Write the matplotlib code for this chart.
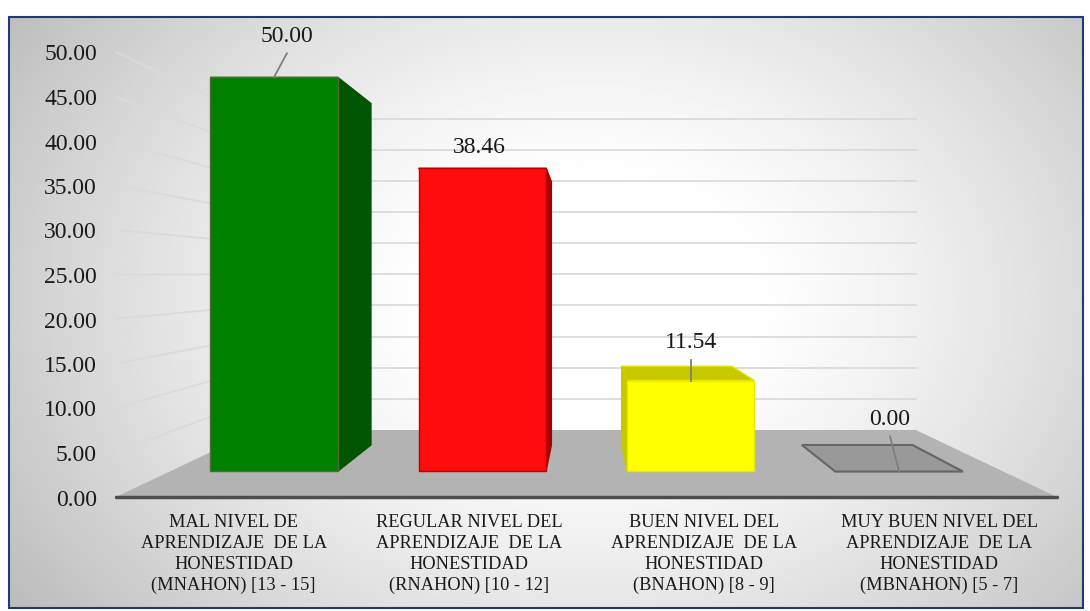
import matplotlib
matplotlib.use("Agg")
import matplotlib.pyplot as plt
from matplotlib.patches import Polygon, Rectangle
import numpy as np

plt.rcParams['font.family'] = ['Liberation Serif', 'DejaVu Serif']

# data
categorias = ["MAL NIVEL DE\nAPRENDIZAJE  DE LA\nHONESTIDAD\n(MNAHON) [13 - 15]",
              "REGULAR NIVEL DEL\nAPRENDIZAJE  DE LA\nHONESTIDAD\n(RNAHON) [10 - 12]",
              "BUEN NIVEL DEL\nAPRENDIZAJE  DE LA\nHONESTIDAD\n(BNAHON) [8 - 9]",
              "MUY BUEN NIVEL DEL\nAPRENDIZAJE  DE LA\nHONESTIDAD\n(MBNAHON) [5 - 7]"]
valores = [50.00, 38.46, 11.54, 0.00]
etiquetas = ["50.00", "38.46", "11.54", "0.00"]
ticks = [0, 5, 10, 15, 20, 25, 30, 35, 40, 45, 50]

# colours: front, side/top, edge
frente = ['#008000', '#ff0d0d', '#ffff00', '#999999']
lado = ['#005500', '#a50000', '#c8c800', '#999999']
borde = ['#4f6b35', '#c00000', '#e8e800', '#666666']

# where each value label sits relative to the front top of its bar
label_dx = [13, -3, 0, -9]
label_dy = [-41, -21, -38, -52]
leader = [True, False, True, True]

# perspective of the 3d box
cx, vy, y0 = 586.5, 273.7, 497.0
half_x = 470.5     # half width of the floor at the front
unit = 8.9         # px per value at the front
s_back = 0.70      # back wall
s_bar_f = 0.8858   # front of bars
s_bar_b = 0.767    # back of bars
half_bar = 72.0


def pt(x, v, s=1.0):
    return (cx + x * s, vy + (y0 - vy - v * unit) * s)


fig = plt.figure(figsize=(10.9, 6.11), dpi=100, facecolor='white')
ax = fig.add_axes([0, 0, 1, 1])
ax.set_xlim(0, 1090)
ax.set_ylim(611, 0)
ax.axis('off')

# background gradient
xx, yy = np.meshgrid(np.linspace(9, 1083, 300), np.linspace(17, 608, 200))
r = np.sqrt(((xx - 590) / 600) ** 2 + ((yy - 300) / 450) ** 2)
g = 1 - 0.2 * np.clip((r - 0.25) / 0.75, 0, 1.4) ** 1.3
ax.imshow(g, extent=(9, 1083, 608, 17), cmap='gray', vmin=0, vmax=1, aspect='auto', zorder=0)
ax.set_xlim(0, 1090)
ax.set_ylim(611, 0)
ax.add_patch(Rectangle((9, 17), 1074, 591, fill=False, ec='#1f3a78', lw=1.5, zorder=1))

# gridlines, side wall and back wall
for t in ticks[1:]:
    a = pt(-half_x, t)
    b = pt(-half_x, t, s_back)
    c = pt(half_x, t, s_back)
    ax.plot([a[0], b[0]], [a[1], b[1]], color='#dadada', lw=1.3, zorder=2)
    ax.plot([b[0], c[0]], [b[1], c[1]], color='#dadada', lw=1.3, zorder=2)

# floor
suelo = [pt(-half_x, 0), pt(half_x, 0), pt(half_x, 0, s_back), pt(-half_x, 0, s_back)]
ax.add_patch(Polygon(suelo, closed=True, fc='#b3b3b3', ec='none', zorder=3))
a = pt(-half_x, 0)
b = pt(half_x, 0)
ax.plot([a[0], b[0]], [a[1], b[1]], color='#4d4d4d', lw=2.5, solid_capstyle='round', zorder=4)

# y tick labels
for t in ticks:
    ax.text(97, pt(-half_x, t)[1] + 3, "%.2f" % t, ha='right', va='center', fontsize=17, color='#1a1a1a', zorder=8)

# bars
for i, v in enumerate(valores):
    xc = (i - 1.5) * half_x / 2
    x1, x2 = xc - half_bar, xc + half_bar
    z = 5 + i * 0.01
    # top
    ax.add_patch(Polygon([pt(x1, v, s_bar_f), pt(x2, v, s_bar_f), pt(x2, v, s_bar_b), pt(x1, v, s_bar_b)],
                         closed=True, fc=lado[i], ec=borde[i], lw=1, zorder=z))
    if v > 0:
        # side wall, the one that faces the centre of the chart
        xs = x2 if xc < 0 else x1
        ax.add_patch(Polygon([pt(xs, 0, s_bar_f), pt(xs, 0, s_bar_b), pt(xs, v, s_bar_b), pt(xs, v, s_bar_f)],
                             closed=True, fc=lado[i], ec=lado[i], lw=0.8, zorder=z))
        ax.add_patch(Polygon([pt(x1, 0, s_bar_f), pt(x2, 0, s_bar_f), pt(x2, v, s_bar_f), pt(x1, v, s_bar_f)],
                             closed=True, fc=frente[i], ec=borde[i], lw=1, zorder=z))
    else:
        ax.add_patch(Polygon([pt(x1, v, s_bar_f), pt(x2, v, s_bar_f), pt(x2, v, s_bar_b), pt(x1, v, s_bar_b)],
                             closed=True, fc=frente[i], ec=borde[i], lw=1.5, zorder=z))
    # value label and leader line
    tx, ty = pt(xc, v, s_bar_f)
    lx, ly = tx + label_dx[i], ty + label_dy[i]
    ax.text(lx, ly, etiquetas[i], ha='center', va='center', fontsize=17, color='#1a1a1a', zorder=9)
    if leader[i]:
        ax.plot([lx, tx], [ly + 17, ty], color='#7f7f7f', lw=1.3, zorder=8)

# category labels
for i, c in enumerate(categorias):
    xc = (i - 1.5) * half_x / 2
    ax.text(cx + xc, 514, c, ha='center', va='top', fontsize=13.2, color='#1a1a1a',
            linespacing=1.3, zorder=8)

fig.savefig('out.png', dpi=100)
